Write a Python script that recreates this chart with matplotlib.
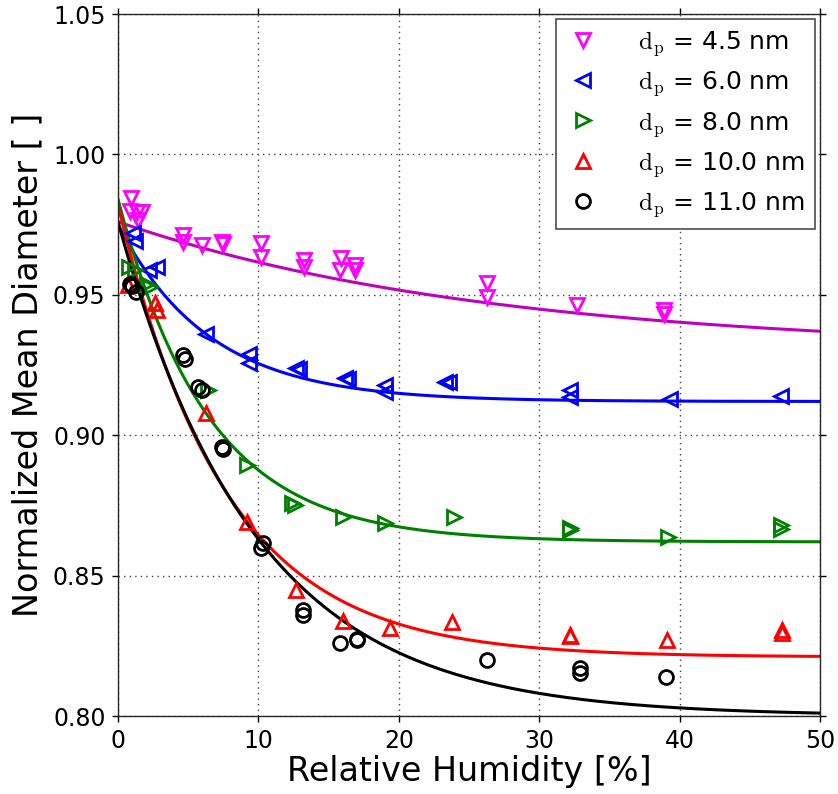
import numpy as np
import matplotlib
matplotlib.use("Agg")
import matplotlib.pyplot as plt

plt.rcParams['mathtext.fontset'] = 'cm'
plt.rcParams['font.family'] = ['DejaVu Sans']

# ---- data ----
labels = [r'$\mathrm{d_p}$ = 4.5 nm', r'$\mathrm{d_p}$ = 6.0 nm', r'$\mathrm{d_p}$ = 8.0 nm',
          r'$\mathrm{d_p}$ = 10.0 nm', r'$\mathrm{d_p}$ = 11.0 nm']

rh_45 = [0.93, 0.85, 1.35, 1.7, 1.4, 4.6, 4.6, 6.0, 7.4, 7.5, 10.2, 10.2, 13.25, 13.25,
         15.9, 15.8, 16.9, 16.9, 26.3, 26.3, 32.7, 38.9, 38.9]
d_45 = [0.9845, 0.980, 0.9795, 0.9795, 0.9766, 0.9713, 0.9688, 0.9677, 0.9688, 0.968,
        0.9684, 0.9635, 0.9624, 0.9599, 0.9631, 0.9588, 0.9606, 0.9588, 0.9542, 0.9492,
        0.9464, 0.9445, 0.943]

rh_60 = [1.1, 1.2, 2.2, 2.8, 6.3, 9.3, 9.3, 12.7, 12.9, 16.2, 16.4, 19.0, 19.0, 23.3, 23.6,
         32.2, 32.2, 39.3, 47.2]
d_60 = [0.972, 0.969, 0.959, 0.960, 0.936, 0.929, 0.9257, 0.924, 0.9235, 0.9204, 0.920,
        0.918, 0.9155, 0.919, 0.919, 0.916, 0.9136, 0.913, 0.914]

rh_80 = [0.8, 1.2, 2.1, 2.3, 6.4, 9.2, 12.4, 12.6, 16.0, 19.0, 23.9, 32.2, 32.2, 39.2, 47.2, 47.2]
d_80 = [0.960, 0.959, 0.954, 0.9528, 0.916, 0.8894, 0.876, 0.875, 0.871, 0.8687, 0.871,
        0.8662, 0.867, 0.8638, 0.868, 0.8665]

rh_100 = [0.7, 2.6, 2.8, 6.3, 9.2, 12.7, 16.0, 19.4, 23.8, 32.2, 32.2, 39.1, 47.3, 47.3]
d_100 = [0.9535, 0.947, 0.9446, 0.908, 0.869, 0.845, 0.834, 0.8313, 0.8335, 0.829, 0.8285,
         0.827, 0.8306, 0.8295]

rh_110 = [0.85, 1.0, 1.3, 4.6, 4.8, 5.7, 6.0, 7.4, 7.5, 10.3, 10.2, 13.2, 13.2, 15.8, 17.0,
          17.0, 26.3, 32.9, 32.9, 39.0]
d_110 = [0.954, 0.953, 0.951, 0.9286, 0.927, 0.917, 0.916, 0.8958, 0.895, 0.8616, 0.86,
         0.8378, 0.836, 0.826, 0.827, 0.8275, 0.82, 0.817, 0.8153, 0.814]

# fitted curves: d = a + b * exp(-RH / c)
fit_a = [0.930, 0.912, 0.862, 0.821, 0.800]
fit_b = [0.046, 0.063, 0.122, 0.161, 0.176]
fit_c = [26.6, 6.5, 6.4, 7.64, 9.73]

xs = [rh_45, rh_60, rh_80, rh_100, rh_110]
ys = [d_45, d_60, d_80, d_100, d_110]
markers = ['v', '<', '>', '^', 'o']
mcolors = ['#FF00FF', '#0000FF', '#008000', '#FF0000', '#000000']
lcolors = ['#BF00BF', '#0000FF', '#008000', '#FF0000', '#000000']

fig = plt.figure(figsize=(8.38, 7.94), dpi=100)
ax = fig.add_axes([118/838, 1 - 716/794, (820-118)/838, (716-14)/794])

rh_curve = np.linspace(0, 50, 400)
handles = []
for x, y, m, mc, lc, a, b, c, lab in zip(xs, ys, markers, mcolors, lcolors, fit_a, fit_b, fit_c, labels):
    h, = ax.plot(x, y, linestyle='none', marker=m, markersize=10, markerfacecolor='none',
                 markeredgecolor=mc, markeredgewidth=2, label=lab, zorder=3)
    ax.plot(rh_curve, a + b * np.exp(-rh_curve / c), color=lc, linewidth=2.2, zorder=2)
    handles.append(h)

ax.set_xlim(0, 50)
ax.set_ylim(0.80, 1.05)
ax.set_xticks([0, 10, 20, 30, 40, 50])
ax.set_yticks([0.80, 0.85, 0.90, 0.95, 1.00, 1.05])
ax.set_yticklabels(['0.80', '0.85', '0.90', '0.95', '1.00', '1.05'])
ax.tick_params(direction='out', length=4, width=1, labelsize=17, top=True, right=True,
               labeltop=False, labelright=False, pad=5)
ax.grid(True, color='0.25', linestyle=(0, (1, 3)), linewidth=1)
for s in ax.spines.values():
    s.set_linewidth(1)
    s.set_color('0.15')

ax.set_xlabel('Relative Humidity [%]', fontsize=24, labelpad=2)
ax.set_ylabel('Normalized Mean Diameter [ ]', fontsize=24, labelpad=6)

leg = ax.legend(handles=handles, loc='upper right', numpoints=1, fontsize=18,
                fancybox=False, framealpha=1, edgecolor='0.3', borderaxespad=0.2,
                handlelength=1.4, handletextpad=1.5, labelspacing=0.46, borderpad=0.4)
leg.get_frame().set_linewidth(1.2)

fig.savefig('out.png', dpi=100)
